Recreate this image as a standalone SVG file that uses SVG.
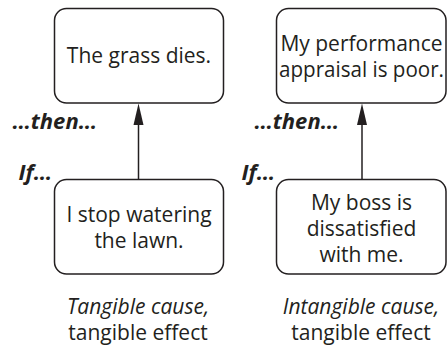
<svg xmlns="http://www.w3.org/2000/svg" width="448" height="349" viewBox="0 0 448 349">
  <style>
    .box { fill: #ffffff; stroke: #231f20; stroke-width: 1.5; }
    .label { font-family: "Open Sans", "Noto Sans", sans-serif; font-size: 21px; fill: #231f20; text-anchor: middle; }
    .cue { font-family: "Open Sans", "Noto Sans", sans-serif; font-size: 22px; font-weight: bold; font-style: italic; fill: #231f20; text-anchor: end; }
    .caption { font-family: "Open Sans", "Noto Sans", sans-serif; font-size: 21px; fill: #231f20; text-anchor: middle; }
    .link { stroke: #231f20; stroke-width: 1.5; fill: none; }
    .head { fill: #231f20; }
  </style>
  <rect width="448" height="349" fill="#ffffff"/>

  <!-- connectors: cause box up to effect box -->
  <g id="connectors">
    <line class="link" x1="138.5" y1="179" x2="138.5" y2="122"/>
    <polygon class="head" points="138.5,103.5 133.5,125 143.5,125"/>
    <line class="link" x1="362" y1="179" x2="362" y2="122"/>
    <polygon class="head" points="362,103.5 357,125 367,125"/>
  </g>

  <!-- left column -->
  <g id="effect-grass">
    <rect class="box" x="54.5" y="8.5" width="169" height="94.5" rx="12"/>
    <text class="label" x="139" y="63">The grass dies.</text>
  </g>
  <g id="cause-watering">
    <rect class="box" x="54.5" y="179.5" width="169" height="94.5" rx="12"/>
    <text class="label" x="139" y="222">I stop watering</text>
    <text class="label" x="139" y="248">the lawn.</text>
  </g>
  <g id="cues-left">
    <text class="cue" x="97" y="129">…then…</text>
    <text class="cue" x="52" y="180">If…</text>
  </g>
  <g id="caption-left">
    <text class="caption" x="138" y="314"><tspan font-style="italic">Tangible cause,</tspan></text>
    <text class="caption" x="138" y="340">tangible effect</text>
  </g>

  <!-- right column -->
  <g id="effect-appraisal">
    <rect class="box" x="276.5" y="8.5" width="169.5" height="94.5" rx="12"/>
    <text class="label" x="361.5" y="51">My performance</text>
    <text class="label" x="361.5" y="77" textLength="165" lengthAdjust="spacingAndGlyphs">appraisal is poor.</text>
  </g>
  <g id="cause-boss">
    <rect class="box" x="276.5" y="179.5" width="169.5" height="94.5" rx="12"/>
    <text class="label" x="361.5" y="210">My boss is</text>
    <text class="label" x="361.5" y="236">dissatisfied</text>
    <text class="label" x="361.5" y="262">with me.</text>
  </g>
  <g id="cues-right">
    <text class="cue" x="339" y="129">…then…</text>
    <text class="cue" x="275" y="180">If…</text>
  </g>
  <g id="caption-right">
    <text class="caption" x="361" y="314"><tspan font-style="italic">Intangible cause,</tspan></text>
    <text class="caption" x="361" y="340">tangible effect</text>
  </g>
</svg>
